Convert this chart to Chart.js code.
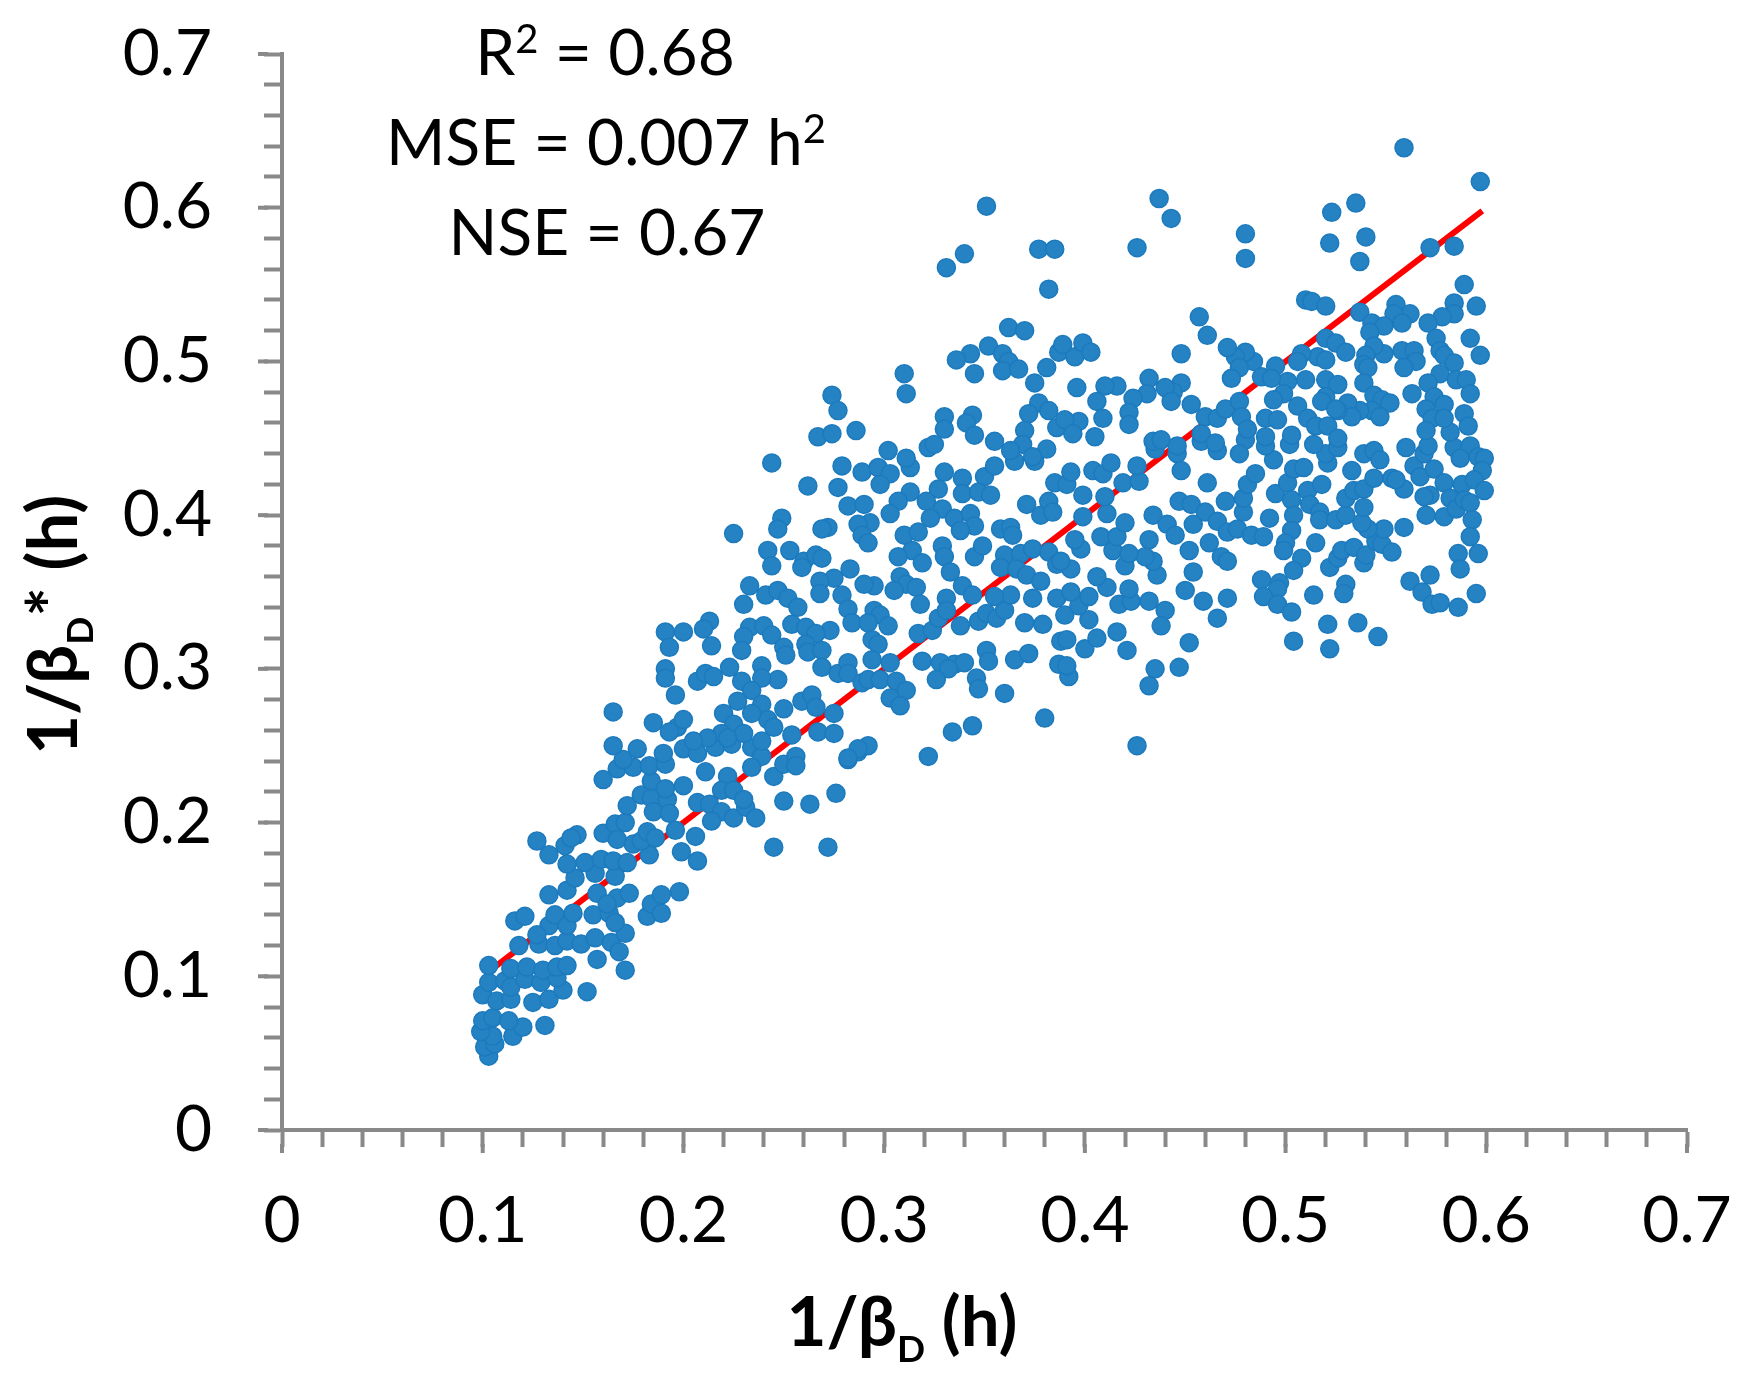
<!DOCTYPE html>
<html>
<head>
<meta charset="utf-8">
<script src="https://cdn.jsdelivr.net/npm/chart.js@4.4.1/dist/chart.umd.min.js"></script>
<style>
  html, body { margin: 0; padding: 0; background: #fff; overflow: hidden; }
  canvas { display: block; }
</style>
</head>
<body>
<canvas id="chart" width="1746" height="1384"></canvas>
<script>
// Точки [1/βD, 1/βD*] у годинах, зчитані з рисунка по ділянках
const lowCluster = [
    [0.103,0.048],[0.101,0.054],[0.106,0.056],[0.105,0.061],[0.099,0.064],[0.115,0.061],[0.120,0.067],[0.131,0.068],
    [0.100,0.071],[0.105,0.073],[0.113,0.071],[0.100,0.088],[0.107,0.084],[0.114,0.085],[0.125,0.083],[0.133,0.085],
    [0.140,0.091],[0.152,0.090],[0.103,0.096],[0.111,0.097],[0.114,0.093],[0.121,0.098],[0.129,0.096],[0.137,0.099],
    [0.103,0.107],[0.114,0.105],[0.122,0.106],[0.130,0.104],[0.137,0.106],[0.142,0.107],[0.118,0.120],[0.128,0.121],
    [0.136,0.120],[0.142,0.123],[0.149,0.121],[0.157,0.111],[0.156,0.125],[0.164,0.122],[0.168,0.116],[0.171,0.104],
    [0.171,0.128],[0.116,0.136],[0.121,0.139],[0.133,0.133],[0.127,0.127],[0.136,0.140],[0.142,0.133],[0.145,0.141],
    [0.155,0.140],[0.163,0.141],[0.166,0.135],[0.133,0.153],[0.142,0.156],[0.157,0.154],[0.167,0.151],[0.173,0.154],
    [0.162,0.147],[0.182,0.139],[0.184,0.147],[0.189,0.141],[0.189,0.153],[0.198,0.155],[0.146,0.164],[0.156,0.167],
    [0.166,0.165],[0.142,0.173],[0.151,0.174],[0.159,0.176],[0.165,0.175],[0.172,0.174],[0.133,0.179],[0.127,0.188],
    [0.141,0.185],[0.147,0.192],[0.144,0.190],[0.160,0.193],[0.166,0.199],[0.171,0.200],[0.167,0.189],[0.175,0.186],
    [0.183,0.179],[0.179,0.188],[0.182,0.194],[0.186,0.190],[0.196,0.195],[0.199,0.181],[0.206,0.191],[0.207,0.175],
    [0.245,0.184],[0.272,0.184],[0.172,0.211],[0.179,0.218],[0.184,0.216],[0.185,0.207],[0.192,0.215],[0.193,0.206],
    [0.184,0.227],[0.191,0.222],[0.200,0.224],[0.160,0.228],[0.167,0.235],[0.175,0.236],[0.183,0.237],[0.191,0.238],
    [0.170,0.241],[0.165,0.250],[0.177,0.248],[0.190,0.245],[0.200,0.248],[0.207,0.245],[0.211,0.233],[0.216,0.249],
    [0.224,0.251],[0.234,0.249],[0.239,0.243],[0.234,0.236],[0.222,0.230],[0.245,0.230],[0.250,0.238],[0.256,0.243],
    [0.256,0.237],[0.207,0.213],[0.213,0.212],[0.219,0.221],[0.225,0.221],[0.219,0.207],[0.214,0.201],[0.225,0.203],
    [0.231,0.210],[0.236,0.203],[0.230,0.215],[0.250,0.214],[0.263,0.212],[0.276,0.219],[0.282,0.241],[0.287,0.246],
    [0.165,0.272],[0.185,0.265]
];

const midBand = [
    [0.244,0.434],[0.262,0.419],[0.277,0.418],[0.279,0.432],[0.289,0.428],[0.297,0.431],[0.303,0.427],[0.298,0.420],
    [0.313,0.431],[0.330,0.428],[0.339,0.424],[0.350,0.425],[0.355,0.432],[0.365,0.435],[0.375,0.435],[0.385,0.421],
    [0.327,0.417],[0.313,0.415],[0.307,0.409],[0.303,0.401],[0.282,0.406],[0.290,0.407],[0.293,0.395],[0.287,0.394],
    [0.289,0.387],[0.292,0.382],[0.272,0.392],[0.269,0.391],[0.249,0.398],[0.247,0.391],[0.225,0.388],[0.242,0.377],
    [0.253,0.377],[0.244,0.367],[0.260,0.370],[0.266,0.374],[0.269,0.372],[0.259,0.366],[0.321,0.409],[0.329,0.404],
    [0.339,0.414],[0.347,0.415],[0.353,0.413],[0.335,0.398],[0.323,0.398],[0.343,0.401],[0.345,0.393],[0.338,0.390],
    [0.371,0.407],[0.378,0.400],[0.382,0.409],[0.384,0.402],[0.358,0.391],[0.363,0.392],[0.364,0.387],[0.310,0.387],
    [0.317,0.389],[0.314,0.377],[0.307,0.373],[0.319,0.369],[0.329,0.380],[0.330,0.373],[0.345,0.373],[0.349,0.380],
    [0.360,0.374],[0.368,0.375],[0.374,0.378],[0.382,0.376],[0.386,0.368],[0.358,0.366],[0.366,0.365],[0.371,0.361],
    [0.378,0.357],[0.333,0.363],[0.339,0.354],[0.344,0.348],[0.331,0.346],[0.308,0.360],[0.311,0.355],[0.316,0.353],
    [0.318,0.342],[0.305,0.351],[0.295,0.354],[0.290,0.355],[0.283,0.365],[0.275,0.359],[0.268,0.357],[0.268,0.349],
    [0.279,0.348],[0.282,0.339],[0.284,0.330],[0.295,0.338],[0.298,0.335],[0.302,0.328],[0.292,0.330],[0.294,0.319],
    [0.297,0.316],[0.294,0.306],[0.273,0.325],[0.233,0.354],[0.230,0.342],[0.241,0.348],[0.247,0.351],[0.252,0.346],
    [0.257,0.340],[0.254,0.329],[0.261,0.327],[0.266,0.323],[0.261,0.316],[0.262,0.311],[0.269,0.312],[0.233,0.327],
    [0.240,0.328],[0.230,0.321],[0.229,0.312],[0.244,0.322],[0.250,0.314],[0.251,0.309],[0.213,0.331],[0.210,0.326],
    [0.214,0.315],[0.200,0.324],[0.191,0.324],[0.193,0.314],[0.191,0.300],[0.191,0.294],[0.207,0.292],[0.211,0.297],
    [0.215,0.295],[0.223,0.301],[0.229,0.292],[0.239,0.302],[0.247,0.293],[0.239,0.294],[0.234,0.286],[0.196,0.283],
    [0.269,0.301],[0.277,0.297],[0.282,0.304],[0.282,0.297],[0.289,0.291],[0.292,0.293],[0.298,0.293],[0.303,0.304],
    [0.306,0.292],[0.311,0.286],[0.303,0.281],[0.308,0.276],[0.317,0.323],[0.324,0.325],[0.327,0.333],[0.331,0.338],
    [0.338,0.328],[0.347,0.331],[0.351,0.336],[0.356,0.333],[0.360,0.338],[0.363,0.348],[0.355,0.347],[0.374,0.346],
    [0.370,0.330],[0.379,0.329],[0.386,0.346],[0.319,0.305],[0.328,0.304],[0.335,0.303],[0.340,0.304],[0.332,0.300],
    [0.326,0.293],[0.346,0.294],[0.347,0.287],[0.351,0.312],[0.352,0.305],[0.365,0.306],[0.372,0.310],[0.387,0.303],
    [0.388,0.318],[0.360,0.284],[0.380,0.268],[0.334,0.259],[0.344,0.263],[0.322,0.243],[0.292,0.250],[0.287,0.248],
    [0.282,0.242],[0.250,0.274],[0.259,0.279],[0.264,0.283],[0.266,0.275],[0.275,0.271],[0.254,0.257],[0.267,0.259],
    [0.275,0.258],[0.239,0.277],[0.242,0.267],[0.245,0.262],[0.234,0.271],[0.227,0.279],[0.220,0.271],[0.225,0.264],
    [0.230,0.258],[0.219,0.258],[0.222,0.255],[0.212,0.255],[0.205,0.253],[0.197,0.262],[0.193,0.259],[0.200,0.267],
    [0.239,0.253]
];

const midUpper = [
    [0.351,0.601],[0.340,0.570],[0.331,0.561],[0.377,0.573],[0.385,0.573],[0.382,0.547],[0.362,0.522],[0.370,0.520],
    [0.387,0.506],[0.352,0.510],[0.343,0.505],[0.336,0.501],[0.345,0.492],[0.359,0.505],[0.362,0.500],[0.359,0.494],
    [0.367,0.495],[0.381,0.496],[0.375,0.486],[0.377,0.473],[0.382,0.468],[0.372,0.466],[0.386,0.457],[0.370,0.455],
    [0.369,0.446],[0.381,0.443],[0.363,0.442],[0.374,0.438],[0.310,0.492],[0.311,0.479],[0.274,0.478],[0.277,0.468],
    [0.267,0.451],[0.274,0.453],[0.286,0.455],[0.330,0.464],[0.330,0.456],[0.344,0.465],[0.341,0.460],[0.345,0.452],
    [0.355,0.448],[0.322,0.444],[0.325,0.446],[0.302,0.442],[0.311,0.437]
];

const rightLower = [
    [0.426,0.250],[0.432,0.289],[0.435,0.300],[0.447,0.301],[0.392,0.295],[0.391,0.302],[0.400,0.313],[0.406,0.320],
    [0.391,0.319],[0.421,0.312],[0.416,0.324],[0.402,0.332],[0.390,0.335],[0.397,0.341],[0.402,0.347],[0.393,0.350],
    [0.417,0.342],[0.423,0.344],[0.422,0.352],[0.432,0.344],[0.440,0.338],[0.438,0.328],[0.452,0.317],[0.450,0.351],
    [0.459,0.344],[0.466,0.333],[0.471,0.346],[0.454,0.363],[0.436,0.361],[0.434,0.370],[0.430,0.373],[0.420,0.367],
    [0.411,0.353],[0.406,0.360],[0.393,0.365],[0.388,0.370],[0.398,0.378],[0.395,0.384],[0.414,0.377],[0.422,0.375],
    [0.408,0.386],[0.416,0.386],[0.420,0.395],[0.411,0.401],[0.399,0.399],[0.410,0.412],[0.399,0.413],[0.391,0.420],
    [0.393,0.428],[0.404,0.429],[0.409,0.427],[0.413,0.434],[0.419,0.421],[0.427,0.422],[0.426,0.432],[0.435,0.443],
    [0.446,0.440],[0.448,0.429],[0.434,0.400],[0.441,0.394],[0.445,0.387],[0.432,0.384],[0.447,0.409],[0.453,0.407],
    [0.454,0.394],[0.452,0.377],[0.462,0.382],[0.460,0.402],[0.468,0.373],[0.471,0.370],[0.470,0.409],[0.466,0.396],
    [0.471,0.389],[0.476,0.391],[0.479,0.402],[0.479,0.411],[0.481,0.420],[0.485,0.427],[0.483,0.387],[0.489,0.386],
    [0.492,0.398],[0.495,0.414],[0.494,0.436],[0.490,0.445],[0.480,0.449],[0.477,0.440],[0.461,0.421],[0.458,0.448],
    [0.466,0.442],[0.501,0.421],[0.504,0.430],[0.509,0.431],[0.503,0.410],[0.504,0.400],[0.503,0.390],[0.500,0.382],
    [0.499,0.377],[0.508,0.372],[0.504,0.364],[0.497,0.356],[0.496,0.352],[0.488,0.358],[0.489,0.347],[0.496,0.342],
    [0.503,0.337],[0.504,0.318],[0.511,0.416],[0.512,0.407],[0.518,0.420],[0.517,0.402],[0.517,0.397],[0.525,0.397],
    [0.515,0.382],[0.514,0.348],[0.521,0.329],[0.522,0.313],[0.522,0.366],[0.526,0.372],[0.528,0.377],[0.530,0.355],
    [0.529,0.349],[0.536,0.330],[0.546,0.321],[0.534,0.379],[0.539,0.369],[0.540,0.374],[0.545,0.383],[0.548,0.381],
    [0.549,0.391],[0.553,0.376],[0.541,0.391],[0.538,0.395],[0.530,0.400],[0.530,0.411],[0.534,0.416],[0.539,0.417],
    [0.539,0.405],[0.533,0.429],[0.544,0.424],[0.553,0.424],[0.559,0.417],[0.559,0.392],[0.521,0.434],[0.520,0.440],
    [0.526,0.444],[0.514,0.446],[0.502,0.446],[0.539,0.440],[0.544,0.442],[0.547,0.436],[0.560,0.444],[0.564,0.432],
    [0.569,0.440],[0.571,0.445],[0.567,0.425],[0.574,0.430],[0.572,0.413],[0.570,0.400],[0.579,0.421],[0.579,0.399],
    [0.582,0.411],[0.585,0.404],[0.588,0.420],[0.589,0.410],[0.584,0.444],[0.592,0.445],[0.587,0.437],[0.596,0.438],
    [0.599,0.437],[0.598,0.429],[0.594,0.423],[0.599,0.416],[0.592,0.408],[0.593,0.397],[0.592,0.386],[0.586,0.375],
    [0.596,0.375],[0.587,0.365],[0.572,0.361],[0.562,0.357],[0.568,0.350],[0.573,0.342],[0.577,0.343],[0.586,0.340],
    [0.595,0.349],[0.555,0.423],[0.569,0.412]
];

const rightUpper = [
    [0.559,0.639],[0.597,0.617],[0.535,0.603],[0.523,0.597],[0.540,0.581],[0.522,0.577],[0.537,0.565],[0.572,0.574],
    [0.584,0.575],[0.437,0.606],[0.443,0.593],[0.480,0.583],[0.480,0.567],[0.426,0.574],[0.589,0.550],[0.595,0.536],
    [0.584,0.538],[0.584,0.531],[0.578,0.529],[0.555,0.537],[0.562,0.531],[0.554,0.531],[0.537,0.532],[0.510,0.540],
    [0.513,0.539],[0.520,0.536],[0.571,0.525],[0.558,0.525],[0.543,0.525],[0.549,0.523],[0.542,0.519],[0.592,0.515],
    [0.575,0.515],[0.597,0.504],[0.577,0.507],[0.579,0.504],[0.584,0.499],[0.577,0.492],[0.585,0.488],[0.590,0.488],
    [0.592,0.479],[0.589,0.466],[0.591,0.458],[0.582,0.454],[0.571,0.486],[0.563,0.479],[0.574,0.477],[0.579,0.472],
    [0.570,0.469],[0.573,0.463],[0.579,0.463],[0.570,0.455],[0.558,0.507],[0.564,0.507],[0.565,0.500],[0.559,0.496],
    [0.549,0.505],[0.544,0.510],[0.540,0.504],[0.539,0.498],[0.541,0.496],[0.539,0.486],[0.544,0.478],[0.548,0.475],
    [0.552,0.473],[0.543,0.468],[0.547,0.464],[0.537,0.468],[0.531,0.473],[0.533,0.464],[0.526,0.468],[0.520,0.515],
    [0.525,0.512],[0.530,0.506],[0.516,0.503],[0.520,0.501],[0.508,0.505],[0.506,0.500],[0.510,0.488],[0.520,0.488],
    [0.526,0.485],[0.520,0.477],[0.518,0.474],[0.525,0.469],[0.506,0.471],[0.511,0.463],[0.515,0.458],[0.521,0.458],
    [0.526,0.450],[0.501,0.487],[0.499,0.479],[0.494,0.475],[0.488,0.490],[0.495,0.497],[0.493,0.489],[0.490,0.463],
    [0.496,0.462],[0.490,0.451],[0.503,0.452],[0.484,0.500],[0.480,0.506],[0.475,0.503],[0.477,0.496],[0.473,0.489],
    [0.471,0.509],[0.461,0.517],[0.457,0.529],[0.448,0.505],[0.448,0.486],[0.444,0.480],[0.440,0.483],[0.443,0.474],
    [0.453,0.472],[0.432,0.489],[0.431,0.479],[0.424,0.476],[0.422,0.467],[0.422,0.459],[0.416,0.484],[0.410,0.484],
    [0.406,0.474],[0.409,0.463],[0.396,0.483],[0.397,0.461],[0.390,0.462],[0.394,0.453],[0.405,0.451],[0.395,0.503],
    [0.399,0.512],[0.403,0.506],[0.389,0.511],[0.460,0.464],[0.466,0.463],[0.470,0.469],[0.477,0.474],[0.478,0.464],
    [0.481,0.456],[0.458,0.453],[0.465,0.447],[0.434,0.448],[0.438,0.449],[0.446,0.445]
];

// Лінія 1:1 (кінці)
const fitLineX = [0.103, 0.598];

// Підписи осей та статистика
const majorTicks = [0, 0.1, 0.2, 0.3, 0.4, 0.5, 0.6, 0.7];
const r2Text = '0.68';
const mseText = '0.007';
const nseText = '0.67';

const axisGrey = '#898989';
const pointBlue = '#2583C4';

const allPoints = [...lowCluster, ...midBand, ...midUpper, ...rightLower, ...rightUpper]
    .map(([x, y]) => ({x: x, y: y}));

// Мітка тіка тільки для кратних 0.1
function tickLabel(value) {
    const major = majorTicks.find(m => Math.abs(m - value) < 1e-6);
    if (major === undefined) return '';
    return major === 0 ? '0' : major.toFixed(1);
}

// Текст з верхніми/нижніми індексами, центрований по cx
function drawRich(ctx, parts, cx, baseline) {
    let total = 0;
    parts.forEach(p => {
        ctx.font = p.f;
        p.w = ctx.measureText(p.t).width;
        total += p.w;
    });
    let x = cx - total / 2;
    ctx.textAlign = 'left';
    ctx.textBaseline = 'alphabetic';
    parts.forEach(p => {
        ctx.font = p.f;
        ctx.fillText(p.t, x, baseline + (p.dy || 0));
        x += p.w;
    });
}

// Довші основні тіки (мінорні малює сам Chart.js)
const majorTickMarks = {
    id: 'majorTickMarks',
    afterDraw(chart) {
        const {ctx, chartArea, scales} = chart;
        ctx.save();
        ctx.strokeStyle = axisGrey;
        ctx.lineWidth = 4;
        majorTicks.forEach(v => {
            const py = scales.y.getPixelForValue(v);
            ctx.beginPath();
            ctx.moveTo(chartArea.left - 24, py);
            ctx.lineTo(chartArea.left - 14, py);
            ctx.stroke();
            const px = scales.x.getPixelForValue(v);
            ctx.beginPath();
            ctx.moveTo(px, chartArea.bottom + 14);
            ctx.lineTo(px, chartArea.bottom + 23);
            ctx.stroke();
        });
        ctx.restore();
    }
};

// Назви осей та статистика у верхній частині
const textLayer = {
    id: 'textLayer',
    afterDraw(chart) {
        const {ctx} = chart;
        const main = '64px Lato';
        const sup = '40px Lato';
        const bold = 'bold 69px Lato';
        const sub = 'bold 37px Lato';
        ctx.save();
        ctx.fillStyle = '#000';

        drawRich(ctx, [{t: 'R', f: main}, {t: '2', f: sup, dy: -22}, {t: ' = ' + r2Text, f: main}], 605, 75);
        drawRich(ctx, [{t: 'MSE = ' + mseText + ' h', f: main}, {t: '2', f: sup, dy: -22}], 606, 165);
        drawRich(ctx, [{t: 'NSE = ' + nseText, f: main}], 607, 255);

        // Вісь X
        drawRich(ctx, [{t: '1/\u03B2', f: bold}, {t: 'D', f: sub, dy: 16}, {t: ' (h)', f: bold}], 902, 1346);

        // Вісь Y (повернута)
        ctx.translate(77, 625);
        ctx.rotate(-Math.PI / 2);
        drawRich(ctx, [{t: '1/\u03B2', f: bold}, {t: 'D', f: sub, dy: 16}, {t: '* (h)', f: bold}], 0, 0);
        ctx.restore();
    }
};

const ctx = document.getElementById('chart').getContext('2d');

const myChart = new Chart(ctx, {
    type: 'scatter',
    data: {
        datasets: [{
            label: 'points',
            data: allPoints,
            order: 1,
            pointRadius: 9,
            pointBackgroundColor: pointBlue,
            pointBorderColor: '#1C7ABD',
            pointBorderWidth: 1.5,
        }, {
            label: '1:1',
            data: fitLineX.map(v => ({x: v, y: v})),
            order: 2,
            showLine: true,
            borderColor: '#FF0000',
            borderWidth: 6,
            pointRadius: 0,
        }]
    },
    options: {
        responsive: false,
        animation: false,
        devicePixelRatio: 1,
        events: [],
        layout: {
            padding: { top: 54, right: 59, bottom: 0, left: 0 }
        },
        plugins: {
            legend: { display: false },
            tooltip: { enabled: false }
        },
        scales: {
            x: {
                type: 'linear',
                position: 'bottom',
                min: 0,
                max: 0.7,
                afterFit(scale) {
                    scale.height = 254;
                    scale.paddingLeft = 0;
                    scale.paddingRight = 0;
                },
                border: { display: true, color: axisGrey, width: 4 },
                grid: {
                    drawOnChartArea: false,
                    drawTicks: true,
                    tickLength: 17,
                    tickWidth: 4,
                    tickColor: axisGrey
                },
                ticks: {
                    stepSize: 0.02,
                    autoSkip: false,
                    maxRotation: 0,
                    minRotation: 0,
                    padding: 36,
                    color: '#000',
                    font: { family: 'Lato', size: 64 },
                    callback: tickLabel
                }
            },
            y: {
                type: 'linear',
                min: 0,
                max: 0.7,
                afterFit(scale) {
                    scale.width = 282;
                    scale.paddingTop = 0;
                    scale.paddingBottom = 0;
                },
                border: { display: true, color: axisGrey, width: 4 },
                grid: {
                    drawOnChartArea: false,
                    drawTicks: true,
                    tickLength: 18,
                    tickWidth: 4,
                    tickColor: axisGrey
                },
                ticks: {
                    stepSize: 0.02,
                    autoSkip: false,
                    padding: 52,
                    color: '#000',
                    font: { family: 'Lato', size: 64 },
                    callback: tickLabel
                }
            }
        }
    },
    plugins: [majorTickMarks, textLayer],
});
</script>
</body>
</html>
